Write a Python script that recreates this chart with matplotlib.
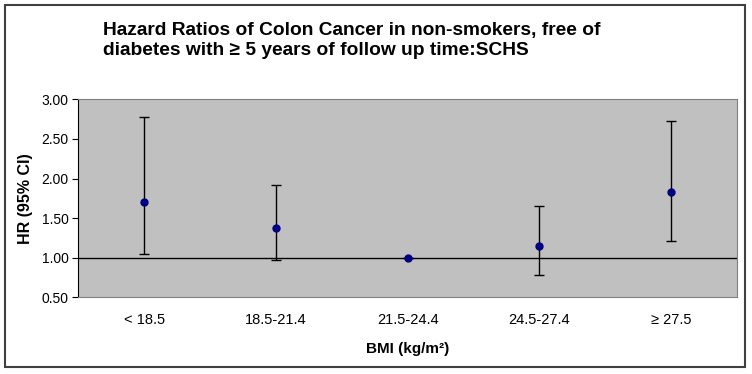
import matplotlib.pyplot as plt
from matplotlib.patches import Rectangle

plt.rcParams['font.family'] = ['Liberation Sans', 'DejaVu Sans']

categories = ["< 18.5", "18.5-21.4", "21.5-24.4", "24.5-27.4", "\u2265 27.5"]
hr = [1.70, 1.38, 1.00, 1.15, 1.83]
ci_low = [1.05, 0.97, 1.00, 0.78, 1.21]
ci_high = [2.78, 1.92, 1.00, 1.65, 2.72]
yticks = [0.5, 1.0, 1.5, 2.0, 2.5, 3.0]

fig = plt.figure(figsize=(7.52, 3.74), dpi=100)
ax = fig.add_axes([0.1041, 0.205, 0.8759, 0.5295])
ax.set_facecolor("#c0c0c0")

x = list(range(len(categories)))
err_lo = [h - l for h, l in zip(hr, ci_low)]
err_hi = [u - h for h, u in zip(hr, ci_high)]

# reference line where the category axis crosses
ax.axhline(1.0, color="black", lw=1.0, zorder=2)

ax.errorbar(x, hr, yerr=[err_lo, err_hi], fmt="none", ecolor="black",
            elinewidth=1.0, capsize=3.5, capthick=1.0, zorder=3)
ax.plot(x, hr, "o", color="#000080", ms=5, zorder=4)

ax.set_xlim(-0.5, len(categories) - 0.5)
ax.set_ylim(0.5, 3.0)
ax.set_yticks(yticks)
ax.set_yticklabels([f"{v:.2f}" for v in yticks], fontsize=10)
ax.set_xticks(x)
ax.set_xticklabels(categories, fontsize=10.5)
ax.tick_params(axis="x", length=0, pad=11)
ax.tick_params(axis="y", length=4, direction="out", color="black", pad=3)

for s in ["top", "right", "bottom"]:
    ax.spines[s].set_color("#808080")
ax.spines["left"].set_color("black")

ax.set_ylabel("HR (95% CI)", fontsize=11.5, fontweight="bold", labelpad=6)
ax.set_xlabel("BMI (kg/m\u00b2)", fontsize=11, fontweight="bold", labelpad=11)

fig.text(0.137, 0.940, "Hazard Ratios of Colon Cancer in non-smokers, free of\n"
         "diabetes with \u2265 5 years of follow up time:SCHS",
         fontsize=13.8, fontweight="bold", ha="left", va="top", linespacing=1.18)

# outer chart frame
fig.add_artist(Rectangle((5 / 752, 1 - 367 / 374), 740 / 752, 362 / 374,
                         transform=fig.transFigure, fill=False,
                         edgecolor="#404040", lw=1.5))

fig.savefig("out.png", dpi=100)
